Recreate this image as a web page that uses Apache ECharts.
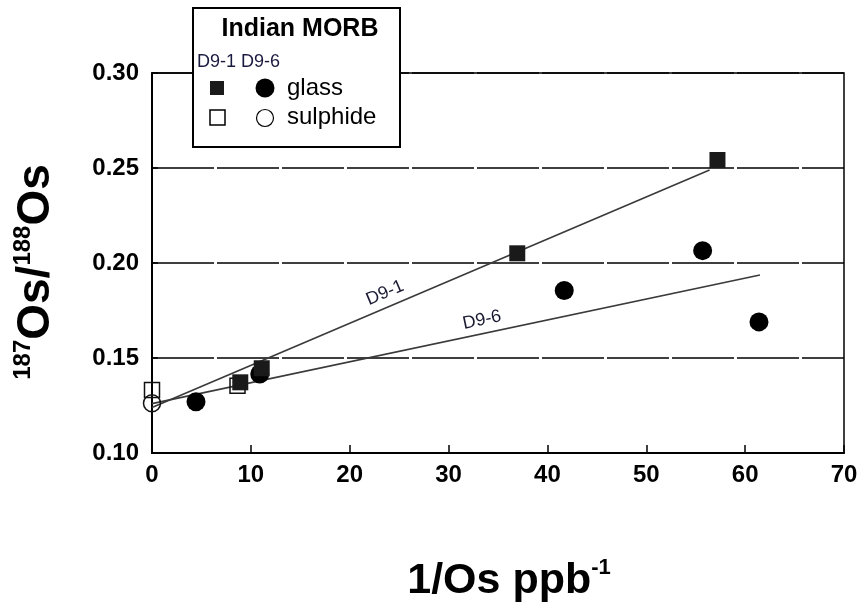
<!DOCTYPE html>
<html>
<head>
<meta charset="utf-8">
<script src="https://cdn.jsdelivr.net/npm/echarts@6/dist/echarts.min.js"></script>
<style>html,body{margin:0;padding:0;background:#fff}#c{width:864px;height:613px}</style>
</head>
<body>
<div id="c"></div>
<script>
// Data
const xTicks = [0, 10, 20, 30, 40, 50, 60, 70];
const yTicks = [0.10, 0.15, 0.20, 0.25, 0.30];
const d91Glass = [[8.93, 0.1372], [11.1, 0.1446], [36.95, 0.2051], [57.2, 0.2542]];
const d91Sulphide = [[0, 0.1332], [8.65, 0.1354]];
const d96Glass = [[4.45, 0.127], [10.9, 0.1416], [41.7, 0.1855], [55.7, 0.2065], [61.4, 0.169]];
const d96Sulphide = [[0, 0.1262]];
const d91Fit = [[0, 0.124], [56.4, 0.249]];
const d96Fit = [[0, 0.126], [61.5, 0.1937]];

const FONT = 'Liberation Sans, Arial, sans-serif';
const chart = echarts.init(document.getElementById('c'), null, {renderer: 'canvas'});
chart.setOption({
  animation: false,
  backgroundColor: '#fff',
  grid: {left: 152, right: 20, top: 73, bottom: 160, containLabel: false, outerBoundsMode: 'none',
    show: true, borderColor: '#000', borderWidth: 1.5, backgroundColor: 'transparent'},
  xAxis: {
    type: 'value', min: xTicks[0], max: xTicks[xTicks.length - 1], interval: 10,
    axisLine: {lineStyle: {color: '#000', width: 2}},
    axisTick: {inside: true, length: 8, lineStyle: {color: '#000', width: 1.5}},
    splitLine: {show: false},
    axisLabel: {margin: 10, fontSize: 24, fontWeight: 'bold', fontFamily: FONT, color: '#000'},
    name: '{a|1/Os ppb}{b|-1}', nameLocation: 'middle', nameGap: 104,
    nameTextStyle: {padding: [0, 0, 0, 22], rich: {
      a: {fontSize: 43, fontWeight: 'bold', fontFamily: FONT, color: '#000', lineHeight: 48},
      b: {fontSize: 22, fontWeight: 'bold', fontFamily: FONT, color: '#000', verticalAlign: 'top', lineHeight: 22}
    }}
  },
  yAxis: {
    type: 'value', min: yTicks[0], max: yTicks[yTicks.length - 1], interval: 0.05,
    axisLine: {show: true, lineStyle: {color: '#000', width: 2}},
    axisTick: {show: true, inside: true, length: 6, lineStyle: {color: '#000', width: 1.5}},
    splitLine: {show: true, lineStyle: {color: '#000', width: 1.5, type: [62, 3]}},
    axisLabel: {margin: 13, fontSize: 24, fontWeight: 'bold', fontFamily: FONT, color: '#000', formatter: v => v.toFixed(2)},
    name: '{s|187}{b|Os/}{s|188}{b|Os}', nameLocation: 'middle', nameGap: 91, nameRotate: 90,
    nameTextStyle: {padding: [0, 18, 0, 0], rich: {
      b: {fontSize: 46, fontWeight: 'bold', fontFamily: FONT, color: '#000', lineHeight: 50},
      s: {fontSize: 24, fontWeight: 'bold', fontFamily: FONT, color: '#000', verticalAlign: 'top', lineHeight: 24}
    }}
  },
  series: [
    {name: 'D9-1 fit', type: 'line', data: d91Fit, showSymbol: false, symbol: 'none', silent: true, z: 2,
      lineStyle: {color: '#3a3a3a', width: 1.6}},
    {name: 'D9-6 fit', type: 'line', data: d96Fit, showSymbol: false, symbol: 'none', silent: true, z: 2,
      lineStyle: {color: '#3a3a3a', width: 1.6}},
    {name: 'D9-1 sulphide', type: 'scatter', data: d91Sulphide, symbol: 'rect', symbolSize: 15, z: 3,
      itemStyle: {color: 'rgba(255,255,255,0)', borderColor: '#111', borderWidth: 1.5, opacity: 1}},
    {name: 'D9-6 sulphide', type: 'scatter', data: d96Sulphide, symbol: 'circle', symbolSize: 17, z: 3,
      itemStyle: {color: 'rgba(255,255,255,0)', borderColor: '#111', borderWidth: 1.5, opacity: 1}},
    {name: 'D9-6 glass', type: 'scatter', data: d96Glass, symbol: 'circle', symbolSize: 19, z: 4,
      itemStyle: {color: '#000', opacity: 1}},
    {name: 'D9-1 glass', type: 'scatter', data: d91Glass, symbol: 'rect', symbolSize: 16, z: 5,
      itemStyle: {color: '#1a1a1a', opacity: 1}}
  ],
  graphic: [
    {type: 'text', x: 385, y: 293, rotation: 23 * Math.PI / 180, z: 10,
      style: {text: 'D9-1', font: '18px ' + FONT, fill: '#1a1a33', align: 'center', verticalAlign: 'middle'}},
    {type: 'text', x: 482, y: 320, rotation: 12 * Math.PI / 180, z: 10,
      style: {text: 'D9-6', font: '18px ' + FONT, fill: '#1a1a33', align: 'center', verticalAlign: 'middle'}},
    {type: 'rect', shape: {x: 193, y: 8, width: 207, height: 139}, z: 20,
      style: {fill: '#fff', stroke: '#000', lineWidth: 2}},
    {type: 'text', x: 300, y: 29, z: 21,
      style: {text: 'Indian MORB', font: 'bold 25px ' + FONT, fill: '#000', align: 'center', verticalAlign: 'middle'}},
    {type: 'text', x: 197, y: 62, z: 21,
      style: {text: 'D9-1 D9-6', font: '18px ' + FONT, fill: '#1a1a40', align: 'left', verticalAlign: 'middle'}},
    {type: 'rect', shape: {x: 210, y: 81, width: 14, height: 14}, z: 21, style: {fill: '#1a1a1a'}},
    {type: 'circle', shape: {cx: 265, cy: 88, r: 9.5}, z: 21, style: {fill: '#000'}},
    {type: 'text', x: 287, y: 88, z: 21,
      style: {text: 'glass', font: '24px ' + FONT, fill: '#000', align: 'left', verticalAlign: 'middle'}},
    {type: 'rect', shape: {x: 210, y: 110, width: 15, height: 15}, z: 21, style: {fill: '#fff', stroke: '#000', lineWidth: 1.5}},
    {type: 'circle', shape: {cx: 265, cy: 118, r: 8.5}, z: 21, style: {fill: '#fff', stroke: '#000', lineWidth: 1.2}},
    {type: 'text', x: 287, y: 117, z: 21,
      style: {text: 'sulphide', font: '24px ' + FONT, fill: '#000', align: 'left', verticalAlign: 'middle'}}
  ]
});
</script>
</body>
</html>
